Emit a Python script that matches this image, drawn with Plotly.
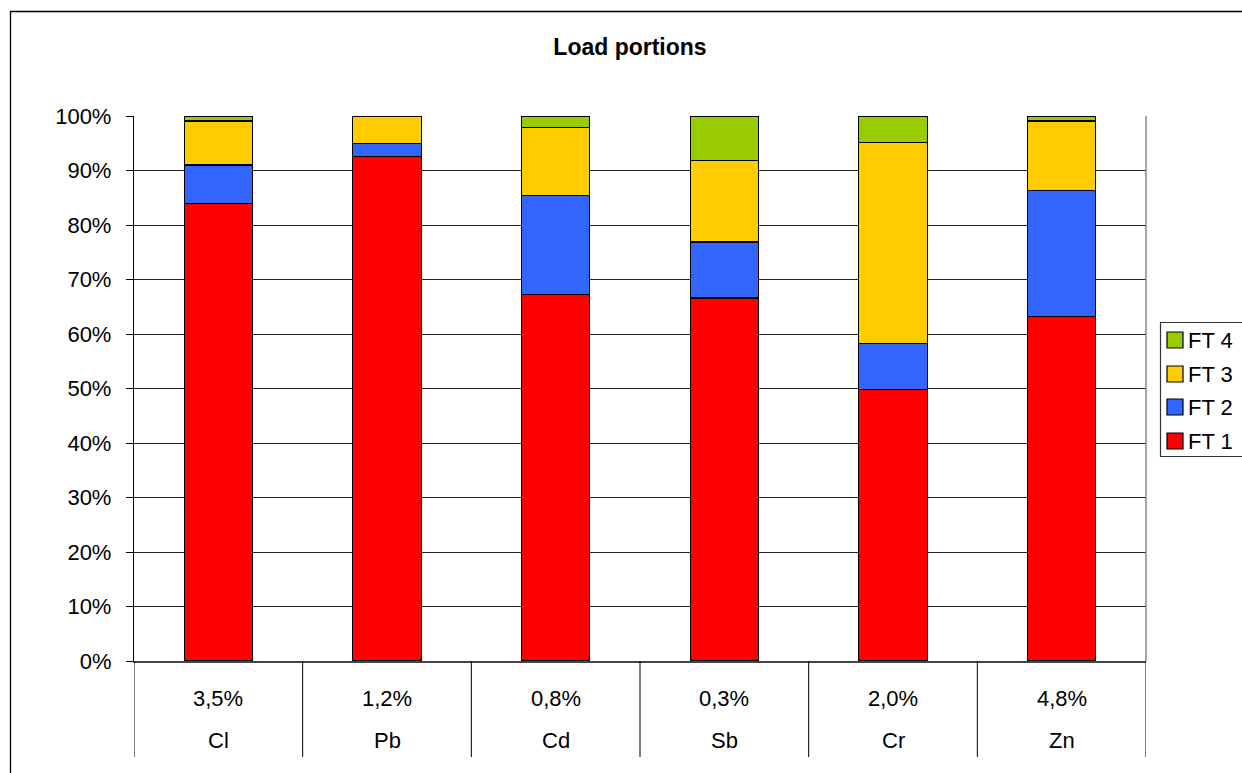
import plotly.graph_objects as go

categories = ["Cl", "Pb", "Cd", "Sb", "Cr", "Zn"]
shares = ["3,5%", "1,2%", "0,8%", "0,3%", "2,0%", "4,8%"]
ft1 = [83.9, 92.5, 67.3, 66.6, 49.8, 63.2]
ft2 = [7.1, 2.5, 18.1, 10.3, 8.4, 23.2]
ft3 = [8.1, 5.0, 12.5, 15.0, 36.9, 12.7]
ft4 = [0.9, 0.0, 2.1, 8.1, 4.9, 0.9]
series_names = ["FT 1", "FT 2", "FT 3", "FT 4"]
series_colors = ["#FF0000", "#3366FF", "#FFCC00", "#99CC00"]
series_values = [ft1, ft2, ft3, ft4]

W, H = 1242, 773
L, R, T, B = 134, 1146, 116, 661
pw, ph = R - L, B - T
FS = 22

def px(x):
    return (x - L) / pw

def py(y):
    return (B - y) / ph

fig = go.Figure()
for name, vals, col in zip(series_names, series_values, series_colors):
    fig.add_trace(go.Bar(
        x=categories, y=[v / 100 for v in vals], name=name,
        marker=dict(color=col, line=dict(color="black", width=1.2)),
        hoverinfo="x+y+name", showlegend=False))

shapes = []
annotations = []
# category separators
for i in range(len(categories) + 1):
    shapes.append(dict(type="line", xref="x", yref="paper",
                       x0=i - 0.5, x1=i - 0.5, y0=0, y1=py(757),
                       line=dict(color="black", width=1)))
# right plot border
shapes.append(dict(type="line", xref="paper", yref="paper", x0=1, x1=1,
                   y0=0, y1=1, line=dict(color="#888888", width=1.5)))
# outer chart frame
shapes.append(dict(type="rect", xref="paper", yref="paper",
                   x0=px(10.5), x1=px(1260), y0=py(800), y1=py(11.5),
                   line=dict(color="black", width=1.3), fillcolor="rgba(0,0,0,0)",
                   layer="below"))

# legend box (drawn to match the reference's compact legend)
shapes.append(dict(type="rect", xref="paper", yref="paper",
                   x0=px(1160.5), x1=px(1262), y0=py(456.5), y1=py(322.5),
                   line=dict(color="#333333", width=1.2), fillcolor="white"))
row_y = [441, 407, 374, 340]  # FT1 .. FT4 centres
for name, col, yc in zip(series_names, series_colors, row_y):
    shapes.append(dict(type="rect", xref="paper", yref="paper",
                       x0=px(1167), x1=px(1183), y0=py(yc + 8), y1=py(yc - 8),
                       line=dict(color="black", width=1.2), fillcolor=col))
    annotations.append(dict(x=px(1186), xref="paper", y=py(yc), yref="paper",
                            text=name, showarrow=False, xanchor="left",
                            yanchor="middle", font=dict(size=FS, color="black")))

for c, s in zip(categories, shares):
    annotations.append(dict(x=c, xref="x", y=py(698), yref="paper", text=s,
                            showarrow=False, font=dict(size=FS, color="black"),
                            xanchor="center", yanchor="middle"))
    annotations.append(dict(x=c, xref="x", y=py(740), yref="paper", text=c,
                            showarrow=False, font=dict(size=FS, color="black"),
                            xanchor="center", yanchor="middle"))

fig.update_layout(
    width=W, height=H,
    margin=dict(l=L, r=W - R, t=T, b=H - B, pad=0, autoexpand=False),
    paper_bgcolor="white", plot_bgcolor="white",
    barmode="stack", bargap=0.595,
    font=dict(family="Liberation Sans, Arial, sans-serif", size=FS, color="black"),
    title=dict(text="<b>Load portions</b>", x=630 / W, xanchor="center",
               y=1 - 47 / H, yanchor="middle",
               font=dict(size=FS + 1, color="black")),
    xaxis=dict(showticklabels=False, ticks="", showgrid=False, zeroline=False,
               showline=True, linecolor="#444444", linewidth=1.5,
               range=[-0.5, len(categories) - 0.5]),
    yaxis=dict(range=[0, 1], dtick=0.1, tickformat=".0%",
               showgrid=True, gridcolor="#222222", gridwidth=1,
               zeroline=False, showline=True, linecolor="black", linewidth=1.3,
               ticks="outside", ticklen=7, tickcolor="black",
               tickfont=dict(size=FS), ticklabelstandoff=10),
    shapes=shapes, annotations=annotations,
    showlegend=False,
)

fig.write_html("out.html")
